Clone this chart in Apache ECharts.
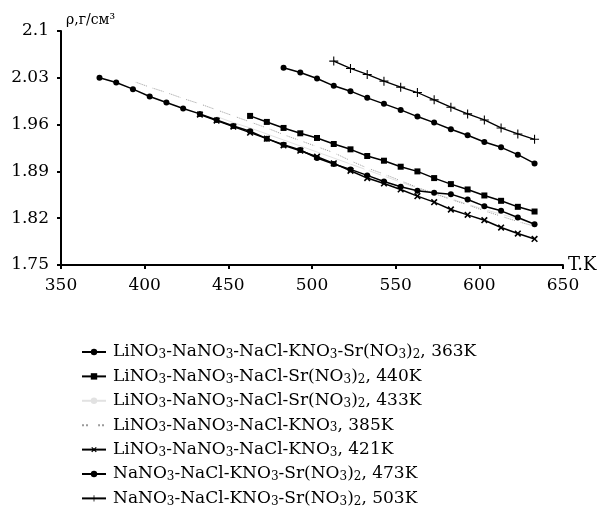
<!DOCTYPE html>
<html><head><meta charset="utf-8">
<script src="https://cdn.jsdelivr.net/npm/echarts@6/dist/echarts.min.js"></script>
<style>html,body{margin:0;padding:0;background:#fff}#c{width:615px;height:508px}</style>
</head><body><div id="c"></div>
<script>
// Temperatures (K) and densities (g/cm3)
var t363 = [373,383,393,403,413,423,433,443,453,463,473,483,493,503,513,523,533,543,553,563,573,583,593,603,613,623,633];
var v363 = [2.030,2.023,2.013,2.002,1.993,1.984,1.976,1.967,1.958,1.950,1.939,1.930,1.922,1.910,1.901,1.893,1.884,1.875,1.867,1.861,1.858,1.856,1.848,1.838,1.831,1.821,1.811];
var t440 = [463,473,483,493,503,513,523,533,543,553,563,573,583,593,603,613,623,633];
var v440 = [1.973,1.964,1.955,1.947,1.940,1.931,1.923,1.913,1.906,1.897,1.890,1.880,1.871,1.863,1.854,1.846,1.837,1.830];
var t433 = [443,453,463,473,483,493,503,513,523,533,543,553,563,573,583,593,603,613,623,633];
var v433 = [1.972,1.963,1.955,1.946,1.937,1.928,1.919,1.910,1.901,1.892,1.883,1.874,1.865,1.857,1.849,1.841,1.833,1.826,1.819,1.812];
var t385 = [393,403,413,423,433,443,453,463,473,483,493,503,513,523,533,543,553,563,573,583,593,603,613,623,633];
var v385 = [2.025,2.016,2.008,1.999,1.991,1.982,1.973,1.964,1.955,1.945,1.936,1.927,1.918,1.906,1.895,1.886,1.876,1.866,1.857,1.848,1.840,1.831,1.823,1.815,1.808];
var t421 = [433,443,453,463,473,483,493,503,513,523,533,543,553,563,573,583,593,603,613,623,633];
var v421 = [1.975,1.966,1.957,1.948,1.939,1.929,1.921,1.912,1.902,1.891,1.880,1.872,1.863,1.853,1.844,1.833,1.825,1.817,1.806,1.797,1.789];
var t473 = [483,493,503,513,523,533,543,553,563,573,583,593,603,613,623,633];
var v473 = [2.045,2.038,2.029,2.018,2.010,2.000,1.991,1.982,1.972,1.963,1.953,1.944,1.934,1.926,1.915,1.902];
var t503 = [513,523,533,543,553,563,573,583,593,603,613,623,633];
var v503 = [2.055,2.044,2.035,2.025,2.016,2.008,1.997,1.986,1.976,1.967,1.955,1.946,1.938];

var names = [
  'LiNO₃-NaNO₃-NaCl-KNO₃-Sr(NO₃)₂, 363K',
  'LiNO₃-NaNO₃-NaCl-Sr(NO₃)₂, 440K',
  'LiNO₃-NaNO₃-NaCl-Sr(NO₃)₂, 433K',
  'LiNO₃-NaNO₃-NaCl-KNO₃, 385K',
  'LiNO₃-NaNO₃-NaCl-KNO₃, 421K',
  'NaNO₃-NaCl-KNO₃-Sr(NO₃)₂, 473K',
  'NaNO₃-NaCl-KNO₃-Sr(NO₃)₂, 503K'
];
var xTicks = [350,400,450,500,550,600,650];
var yTicks = [1.75,1.82,1.89,1.96,2.03,2.1];

function pairs(t, v){ return t.map(function(x,i){ return [x, v[i]]; }); }
var PLUS = 'path://M-0.6,-5 L0.6,-5 L0.6,-0.6 L5,-0.6 L5,0.6 L0.6,0.6 L0.6,5 L-0.6,5 L-0.6,0.6 L-5,0.6 L-5,-0.6 L-0.6,-0.6 Z';
var XS = 'path://M-1,-5 L1,-5 L1,-1 L5,-1 L5,1 L1,1 L1,5 L-1,5 L-1,1 L-5,1 L-5,-1 L-1,-1 Z';
var FONT = 'DejaVu Serif';

function ser(name, data, opts){
  return {
    name: name, type: 'line', data: data, showSymbol: true,
    symbol: opts.symbol, symbolSize: opts.size, symbolRotate: opts.rot || 0,
    lineStyle: { color: opts.color, width: opts.width || 1.5, type: opts.ltype || 'solid' },
    itemStyle: { color: opts.fill || opts.color, borderColor: opts.color, borderWidth: opts.bw || 0 },
    emphasis: { disabled: true }, animation: false, z: opts.z || 2
  };
}

function richName(n){
  var out = '';
  for (var i = 0; i < n.length; i++) {
    var ch = n[i];
    if (ch === '₃') out += '{s|3}';
    else if (ch === '₂') out += '{s|2}';
    else {
      var j = i;
      var seg = '';
      while (j < n.length && n[j] !== '₃' && n[j] !== '₂') { seg += n[j]; j++; }
      out += '{n|' + seg + '}';
      i = j - 1;
    }
  }
  return out;
}

var chart = echarts.init(document.getElementById('c'), null, { renderer: 'canvas' });
chart.setOption({
  backgroundColor: '#fff',
  animation: false,
  textStyle: { fontFamily: FONT, color: '#000' },
  grid: { left: 61, right: 52, top: 31, bottom: 243, containLabel: false },
  xAxis: {
    type: 'value', min: 350, max: 650, interval: 50,
    name: 'T.K', nameLocation: 'end', nameGap: 5,
    nameTextStyle: { fontFamily: FONT, fontSize: 18, color: '#000', verticalAlign: 'middle', padding: [34,0,0,0] },
    axisLine: { lineStyle: { color: '#000', width: 2 } },
    axisTick: { show: true, inside: false, length: 4, lineStyle: { color: '#000', width: 2 } },
    splitLine: { show: false },
    axisLabel: { fontFamily: FONT, fontSize: 17, color: '#000', margin: 12,
      formatter: function(v){ return xTicks.indexOf(v) >= 0 ? String(v) : ''; } }
  },
  yAxis: {
    type: 'value', min: 1.75, max: 2.1, interval: 0.07,
    name: 'ρ,г/см³', nameLocation: 'end', nameGap: 4,
    nameTextStyle: { fontFamily: FONT, fontSize: 14, color: '#000', align: 'left', padding: [0,0,0,5] },
    axisLine: { show: true, lineStyle: { color: '#000', width: 2 } },
    axisTick: { show: true, length: 4, lineStyle: { color: '#000', width: 2 } },
    splitLine: { show: false },
    axisLabel: { fontFamily: FONT, fontSize: 17, color: '#000', margin: 12,
      formatter: function(v){ return String(parseFloat(v.toFixed(2))); } }
  },
  legend: {
    orient: 'vertical', left: 81, top: 343, padding: 0, itemWidth: 24, itemHeight: 8, itemGap: 6.4,
    formatter: function(n){ return richName(n); },
    textStyle: {
      fontFamily: FONT, fontSize: 17, color: '#000', lineHeight: 18, padding: [0,0,0,2],
      rich: {
        n: { fontFamily: FONT, fontSize: 17, color: '#000', lineHeight: 18 },
        s: { fontFamily: FONT, fontSize: 12, color: '#000', lineHeight: 9, verticalAlign: 'bottom' }
      }
    },
    data: names.map(function(n){ return { name: n }; }),
    selectedMode: false
  },
  series: [
    ser(names[0], pairs(t363, v363), { symbol: 'circle', size: 6, color: '#000', z: 4 }),
    ser(names[1], pairs(t440, v440), { symbol: 'rect', size: 6, color: '#000', z: 4 }),
    ser(names[2], pairs(t433, v433), { symbol: 'none', size: 0, color: '#e2e2e2', width: 1, z: 1 }),
    ser(names[3], pairs(t385, v385), { symbol: 'emptyCircle', size: 4, color: '#9a9a9a', fill: '#fff', bw: 1, width: 1, ltype: 'dotted', z: 2 }),
    ser(names[4], pairs(t421, v421), { symbol: XS, size: 8, rot: 45, color: '#000', z: 3 }),
    ser(names[5], pairs(t473, v473), { symbol: 'circle', size: 6, color: '#000', z: 4 }),
    ser(names[6], pairs(t503, v503), { symbol: PLUS, size: 9, color: '#000', width: 1.3, z: 4 })
  ]
});
</script>
</body></html>
